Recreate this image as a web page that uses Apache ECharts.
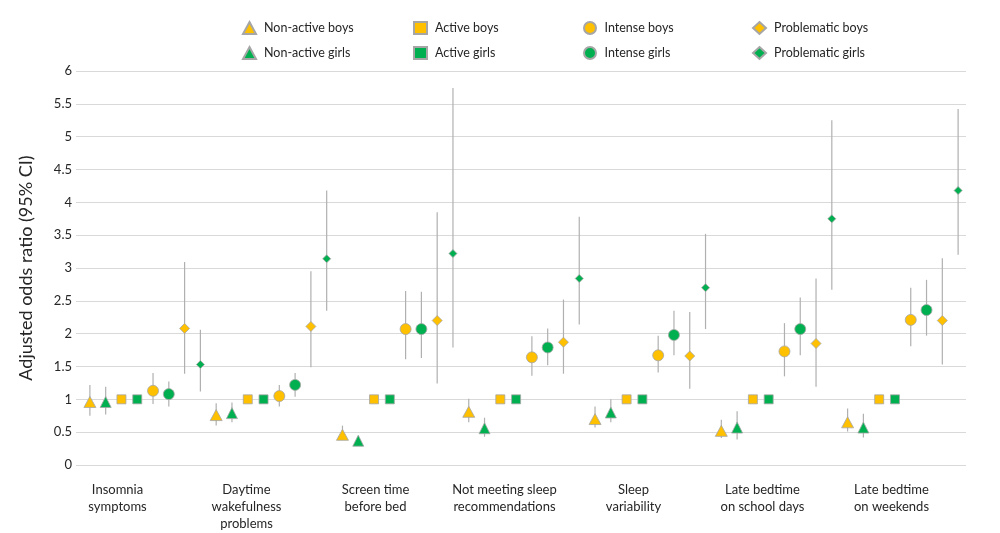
<!DOCTYPE html>
<html>
<head>
<meta charset="utf-8">
<script src="https://cdn.jsdelivr.net/npm/echarts@6/dist/echarts.min.js"></script>
<style>html,body{margin:0;padding:0;background:#fff}#c{width:1000px;height:533px}</style>
</head>
<body>
<div id="c"></div>
<script>
// ---- data ----
const categories = ['Insomnia\nsymptoms', 'Daytime\nwakefulness\nproblems', 'Screen time\nbefore bed', 'Not meeting sleep\nrecommendations', 'Sleep\nvariability', 'Late bedtime\non school days', 'Late bedtime\non weekends'];
const seriesNames = ['Non-active boys', 'Non-active girls', 'Active boys', 'Active girls', 'Intense boys', 'Intense girls', 'Problematic boys', 'Problematic girls'];
const yTicks = [0, 0.5, 1, 1.5, 2, 2.5, 3, 3.5, 4, 4.5, 5, 5.5, 6];

const nonActiveBoys = [0.96, 0.76, 0.46, 0.81, 0.70, 0.52, 0.65];
const nonActiveBoysLo = [0.75, 0.60, 0.38, 0.65, 0.57, 0.41, 0.51];
const nonActiveBoysHi = [1.22, 0.94, 0.60, 1.01, 0.89, 0.69, 0.86];

const nonActiveGirls = [0.96, 0.79, 0.37, 0.56, 0.80, 0.57, 0.57];
const nonActiveGirlsLo = [0.77, 0.65, 0.29, 0.43, 0.65, 0.39, 0.42];
const nonActiveGirlsHi = [1.19, 0.95, 0.44, 0.72, 1.00, 0.82, 0.78];

const activeBoys = [1, 1, 1, 1, 1, 1, 1];
const activeGirls = [1, 1, 1, 1, 1, 1, 1];

const intenseBoys = [1.13, 1.05, 2.07, 1.64, 1.67, 1.73, 2.21];
const intenseBoysLo = [0.93, 0.89, 1.61, 1.36, 1.41, 1.35, 1.81];
const intenseBoysHi = [1.40, 1.22, 2.65, 1.96, 1.97, 2.16, 2.70];

const intenseGirls = [1.08, 1.22, 2.07, 1.79, 1.98, 2.07, 2.36];
const intenseGirlsLo = [0.89, 1.04, 1.63, 1.52, 1.67, 1.67, 1.97];
const intenseGirlsHi = [1.27, 1.40, 2.64, 2.08, 2.35, 2.55, 2.82];

const problematicBoys = [2.08, 2.11, 2.20, 1.87, 1.66, 1.85, 2.20];
const problematicBoysLo = [1.39, 1.49, 1.24, 1.39, 1.16, 1.19, 1.53];
const problematicBoysHi = [3.09, 2.95, 3.85, 2.52, 2.33, 2.84, 3.15];

const problematicGirls = [1.53, 3.14, 3.22, 2.84, 2.70, 3.75, 4.18];
const problematicGirlsLo = [1.12, 2.35, 1.79, 2.14, 2.07, 2.67, 3.20];
const problematicGirlsHi = [2.06, 4.18, 5.74, 3.78, 3.52, 5.25, 5.42];

// ---- build ----
const YEL = '#FFC000', GRN = '#00B050', EDGE = '#a6a6a6';
const FONT = "Lato, 'Noto Sans', sans-serif";
const nGroups = categories.length, nSer = seriesNames.length;
const slots = [];
for (let i = 0; i < nGroups * nSer; i++) slots.push('s' + i);

const values = [nonActiveBoys, nonActiveGirls, activeBoys, activeGirls, intenseBoys, intenseGirls, problematicBoys, problematicGirls];
const lows = [nonActiveBoysLo, nonActiveGirlsLo, null, null, intenseBoysLo, intenseGirlsLo, problematicBoysLo, problematicGirlsLo];
const highs = [nonActiveBoysHi, nonActiveGirlsHi, null, null, intenseBoysHi, intenseGirlsHi, problematicBoysHi, problematicGirlsHi];
const symbols = ['triangle', 'triangle', 'rect', 'rect', 'circle', 'circle', 'diamond', 'diamond'];
const sizes = [[12, 11], [11, 11], 9, 9, 11, 11, 10, 8];
const colors = [YEL, GRN, YEL, GRN, YEL, GRN, YEL, GRN];

const ciData = [];
values.forEach((v, s) => {
  if (!lows[s]) return;
  v.forEach((_, g) => ciData.push([g * nSer + s, lows[s][g], highs[s][g]]));
});

const series = [{
  type: 'custom',
  xAxisIndex: 0, yAxisIndex: 0,
  silent: true, z: 1,
  data: ciData,
  encode: { x: 0, y: [1, 2] },
  renderItem: function (params, api) {
    const p1 = api.coord([api.value(0), api.value(1)]);
    const p2 = api.coord([api.value(0), api.value(2)]);
    return { type: 'line', shape: { x1: p1[0], y1: p1[1], x2: p2[0], y2: p2[1] }, style: { stroke: '#b0b0b0', lineWidth: 1.2 } };
  }
}];
values.forEach((v, s) => {
  series.push({
    name: seriesNames[s], type: 'scatter', xAxisIndex: 0, yAxisIndex: 0, z: 3,
    symbol: symbols[s], symbolSize: sizes[s],
    itemStyle: { color: colors[s], borderColor: EDGE, borderWidth: 0.8, opacity: 1 },
    data: v.map((val, g) => [g * nSer + s, val])
  });
});

// legends: boys in row 1, girls in row 2; 4 columns
const legendX = [237, 408, 578, 747];
const legends = [];
seriesNames.forEach((n, s) => {
  const col = Math.floor(s / 2), row = s % 2;
  legends.push({
    data: [n], left: legendX[col], top: row === 0 ? 16 : 41,
    itemWidth: 13, itemHeight: 12, selectedMode: false,
    textStyle: { fontFamily: FONT, fontSize: 12.5, color: '#262626', padding: [0, 0, 0, 3] }
  });
});

const option = {
  animation: false,
  backgroundColor: '#fff',
  legend: legends,
  grid: [
    { left: 82, right: 34, top: 71, bottom: 68 },
    { left: 53, width: 903, top: 71, bottom: 68 }
  ],
  xAxis: [
    { type: 'category', gridIndex: 0, data: slots, boundaryGap: true,
      axisLine: { show: false }, axisTick: { show: false }, axisLabel: { show: false }, splitLine: { show: false } },
    { type: 'category', gridIndex: 1, data: categories, boundaryGap: true,
      axisLine: { show: false }, axisTick: { show: false }, splitLine: { show: false },
      axisLabel: { fontFamily: FONT, fontSize: 13, color: '#262626', lineHeight: 17, margin: 16, interval: 0 } }
  ],
  yAxis: [
    { type: 'value', gridIndex: 0, min: yTicks[0], max: yTicks[yTicks.length - 1], interval: 0.5,
      name: 'Adjusted odds ratio (95% CI)', nameLocation: 'middle', nameGap: 47,
      nameTextStyle: { fontFamily: FONT, fontSize: 18, color: '#262626' },
      axisLine: { show: false },
      axisTick: { show: true, length: 6, lineStyle: { color: '#d9d9d9' } },
      axisLabel: { fontFamily: FONT, fontSize: 13, color: '#262626', margin: 10 },
      splitLine: { lineStyle: { color: '#d9d9d9', width: 1 } } },
    { type: 'value', gridIndex: 1, show: false, min: 0, max: 6 }
  ],
  series: series
};
echarts.init(document.getElementById('c'), null, { renderer: 'canvas' }).setOption(option);
</script>
</body>
</html>
